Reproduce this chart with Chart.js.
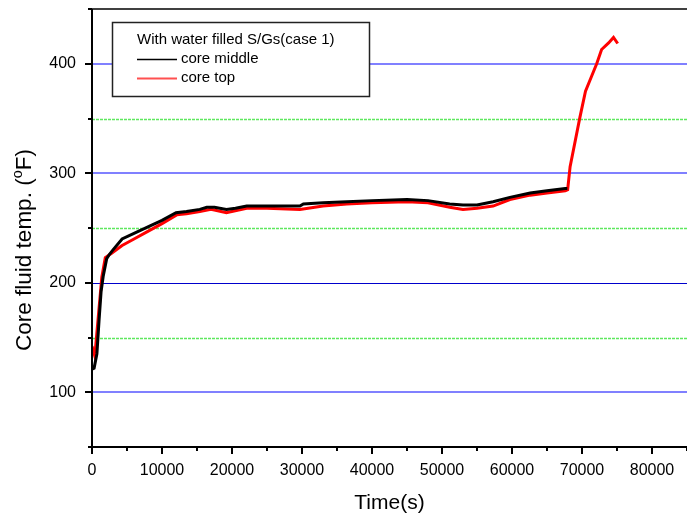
<!DOCTYPE html>
<html>
<head>
<meta charset="utf-8">
<script src="https://cdn.jsdelivr.net/npm/chart.js@4.4.0/dist/chart.umd.min.js"></script>
<style>
  html, body { margin: 0; padding: 0; background: #fff; }
  #wrap { width: 687px; height: 523px; }
</style>
</head>
<body>
<div id="wrap"><canvas id="chart" width="687" height="523"></canvas></div>
<script>
// ===== data =====
const legendTitle = 'With water filled S/Gs(case 1)';
const seriesNames = ['core middle', 'core top'];

const middleTime = [0, 300, 700, 1000, 1300, 1600, 2100, 2500, 3000, 4300, 6000, 8300, 10000, 12000, 13500,
  15400, 16400, 17500, 19200, 20500, 22100, 25000, 29700, 30200, 33000, 36400, 40000, 45000, 48000,
  51100, 53000, 55000, 57300, 59700, 62600, 65000, 67600, 67900];
const middleTemp = [121, 122, 135, 165, 192, 206, 222, 226, 230, 240, 245, 252, 257, 264, 265,
  267, 269, 269, 267, 268, 270, 270, 270, 272, 273, 274, 275, 276, 275,
  272, 271, 271, 274, 278, 282, 284, 286, 286];

const topTime = [0, 400, 900, 1400, 1900, 2800, 4300, 6000, 8300, 10000, 12100, 13500, 15400, 17000,
  19200, 22100, 25000, 29700, 33000, 36400, 40000, 45000, 48000, 51100, 53000, 55000, 57300, 59700,
  62600, 65000, 67600, 67950, 68300, 69700, 70500, 71400, 72100, 72800, 73800, 74500, 75100];
const topTemp = [142, 133, 169, 205, 223, 227, 234, 240, 248, 254, 262, 263, 265, 267,
  264, 268, 268, 267, 270, 272, 273, 274, 273, 269, 267, 268, 270, 276,
  280, 282, 284, 285, 306, 351, 375, 389, 400, 413, 419, 424, 418.5];

const xMin = 0, xMax = 85000, xStep = 5000, xLabelStep = 10000;
const yMin = 50, yMax = 450, yStep = 50, yLabelStep = 100;

const FONT = '"Liberation Sans", Arial, Helvetica, sans-serif';

function toPoints(xs, ys) {
  return xs.map((x, i) => ({ x: x, y: ys[i] }));
}

// grid lines, axis frame, tick marks, legend box, axis titles
const framePlugin = {
  id: 'frame',
  beforeDatasetsDraw(chart) {
    const { ctx, chartArea: a, scales: { y } } = chart;
    ctx.save();
    y.ticks.forEach(t => {
      const v = t.value;
      if (v <= yMin || v >= yMax) return;
      const py = Math.round(y.getPixelForValue(v));
      ctx.beginPath();
      if (v % 100 === 0) {
        if (v === 200) {
          ctx.strokeStyle = '#0000cc';
          ctx.lineWidth = 1.2;
          ctx.moveTo(a.left, py + 0.5);
          ctx.lineTo(a.right, py + 0.5);
        } else {
          ctx.strokeStyle = '#8080ff';
          ctx.lineWidth = 2;
          ctx.moveTo(a.left, py);
          ctx.lineTo(a.right, py);
        }
        ctx.setLineDash([]);
      } else {
        ctx.strokeStyle = '#5ee85e';
        ctx.lineWidth = 1.3;
        ctx.setLineDash([3, 1]);
        ctx.moveTo(a.left, py + 0.5);
        ctx.lineTo(a.right, py + 0.5);
      }
      ctx.stroke();
    });
    ctx.restore();
  },
  afterDraw(chart) {
    const { ctx, chartArea: a, scales: { x, y } } = chart;
    ctx.save();
    ctx.setLineDash([]);
    ctx.strokeStyle = '#000';

    // frame: left + bottom axes, top line
    ctx.lineWidth = 2;
    ctx.beginPath();
    ctx.moveTo(a.left, a.top);
    ctx.lineTo(a.left, a.bottom);
    ctx.lineTo(a.right, a.bottom);
    ctx.stroke();
    ctx.lineWidth = 1.5;
    ctx.beginPath();
    ctx.moveTo(a.left, a.top);
    ctx.lineTo(a.right, a.top);
    ctx.stroke();

    // tick marks (outside)
    ctx.lineWidth = 2;
    y.ticks.forEach(t => {
      const py = Math.round(y.getPixelForValue(t.value));
      const len = t.value % yLabelStep === 0 ? 7 : 4;
      ctx.beginPath();
      ctx.moveTo(a.left - len, py);
      ctx.lineTo(a.left, py);
      ctx.stroke();
    });
    x.ticks.forEach(t => {
      const px = Math.round(x.getPixelForValue(t.value));
      const len = t.value % xLabelStep === 0 ? 7 : 4;
      ctx.beginPath();
      ctx.moveTo(px, a.bottom);
      ctx.lineTo(px, a.bottom + len);
      ctx.stroke();
    });

    // legend box
    const bx = 112.5, by = 22.5, bw = 257, bh = 74;
    ctx.fillStyle = '#fff';
    ctx.fillRect(bx, by, bw, bh);
    ctx.lineWidth = 1.5;
    ctx.strokeStyle = '#222';
    ctx.strokeRect(bx, by, bw, bh);
    ctx.fillStyle = '#000';
    ctx.font = '15px ' + FONT;
    ctx.textBaseline = 'middle';
    ctx.textAlign = 'left';
    ctx.fillText(legendTitle, 137, 40);
    const colors = ['#000000', '#ff5050'];
    seriesNames.forEach((name, i) => {
      const ly = 59 + i * 18.5;
      ctx.strokeStyle = colors[i];
      ctx.lineWidth = i === 0 ? 1.3 : 2;
      ctx.beginPath();
      ctx.moveTo(137, Math.round(ly) + 0.5);
      ctx.lineTo(177, Math.round(ly) + 0.5);
      ctx.stroke();
      ctx.fillStyle = '#000';
      ctx.fillText(name, 181, ly);
    });

    // x title
    ctx.font = '21px ' + FONT;
    ctx.textAlign = 'center';
    ctx.fillText('Time(s)', (a.left + a.right) / 2, 503);

    // y title with superscript o
    const big = '22.5px ' + FONT, small = '14.5px ' + FONT;
    const p1 = 'Core fluid temp. (', p2 = 'o', p3 = 'F)';
    ctx.font = big;
    const w1 = ctx.measureText(p1).width, w3 = ctx.measureText(p3).width;
    ctx.font = small;
    const w2 = ctx.measureText(p2).width;
    const total = w1 + w2 + w3;
    ctx.translate(25, 250);
    ctx.rotate(-Math.PI / 2);
    ctx.textAlign = 'left';
    ctx.font = big;
    ctx.fillText(p1, -total / 2, 0);
    ctx.font = small;
    ctx.fillText(p2, -total / 2 + w1, -7);
    ctx.font = big;
    ctx.fillText(p3, -total / 2 + w1 + w2, 0);
    ctx.restore();
  }
};

new Chart(document.getElementById('chart').getContext('2d'), {
  type: 'line',
  data: {
    datasets: [
      {
        label: seriesNames[0],
        data: toPoints(middleTime, middleTemp),
        borderColor: '#000000',
        borderWidth: 3,
        pointRadius: 0,
        tension: 0,
        fill: false
      },
      {
        label: seriesNames[1],
        data: toPoints(topTime, topTemp),
        borderColor: '#ff0000',
        borderWidth: 3,
        pointRadius: 0,
        tension: 0,
        fill: false
      }
    ]
  },
  options: {
    responsive: false,
    animation: false,
    events: [],
    layout: { padding: { top: 9, right: 0, left: 0, bottom: 0 } },
    plugins: {
      legend: { display: false },
      tooltip: { enabled: false }
    },
    scales: {
      x: {
        type: 'linear',
        min: xMin,
        max: xMax,
        afterFit: s => { s.height = 76; s.paddingLeft = 0; s.paddingRight = 0; },
        grid: { display: false, drawTicks: false },
        border: { display: false },
        ticks: {
          stepSize: xStep,
          autoSkip: false,
          maxRotation: 0,
          padding: 14,
          color: '#000',
          font: { size: 16, family: FONT },
          callback: v => (v % xLabelStep === 0 && v < xMax ? String(v) : '')
        }
      },
      y: {
        type: 'linear',
        min: yMin,
        max: yMax,
        afterFit: s => { s.width = 92; s.paddingTop = 0; s.paddingBottom = 0; },
        grid: { display: false, drawTicks: false },
        border: { display: false },
        ticks: {
          stepSize: yStep,
          autoSkip: false,
          padding: 16,
          color: '#000',
          font: { size: 16, family: FONT },
          callback: v => (v % yLabelStep === 0 && v > yMin && v < yMax ? String(v) : '')
        }
      }
    }
  },
  plugins: [framePlugin]
});
</script>
</body>
</html>
